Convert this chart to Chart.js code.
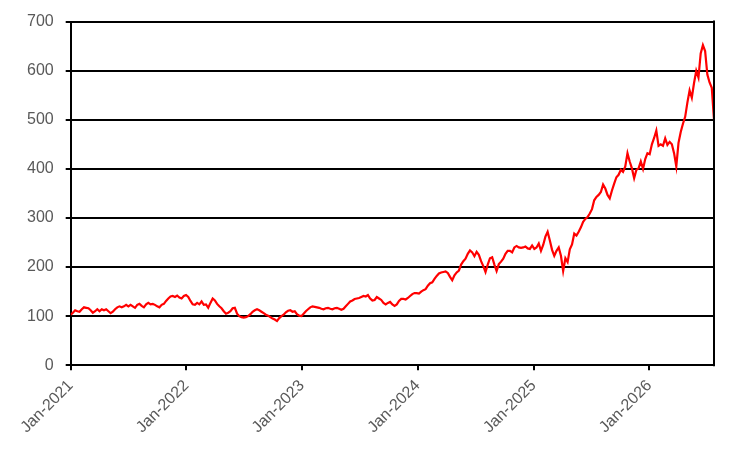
<!DOCTYPE html>
<html>
<head>
<meta charset="utf-8">
<script src="https://cdn.jsdelivr.net/npm/chart.js@4"></script>
<style>
  html, body { margin: 0; padding: 0; background: #fff; }
  #wrap { width: 753px; height: 455px; position: relative; }
</style>
</head>
<body>
<div id="wrap"><canvas id="priceChart"></canvas></div>
<script>
// weekly closes, first point is 1 Jan 2021, one value every 7 days
const startYear = 2021;
const weeklyClose = [
  103,107,112,110,109,114,118,117,116,112,
  107,110,114,110,114,112,114,110,106,109,
  114,118,120,118,120,123,120,123,120,117,
  123,125,121,118,124,127,124,125,123,120,
  118,123,125,131,136,140,141,139,142,138,
  136,141,143,139,131,124,123,127,124,130,
  123,124,117,127,136,132,125,120,116,110,
  105,107,110,116,117,105,100,98,97,98,
  100,104,109,112,114,112,109,106,103,101,
  98,95,93,90,96,100,103,108,111,112,
  109,110,104,101,100,105,110,114,118,120,
  119,118,117,115,114,116,117,115,114,116,
  117,115,113,115,120,125,130,132,135,136,
  137,139,141,140,143,136,132,133,139,136,
  133,127,124,127,129,124,121,124,131,135,
  135,134,137,141,145,147,147,146,150,153,
  155,162,167,169,176,182,187,189,190,191,
  188,180,173,183,189,193,205,212,217,227,
  234,230,222,231,225,212,202,190,205,218,
  220,205,192,206,211,217,227,233,233,230,
  240,243,240,239,240,242,238,237,244,237,
  240,248,233,245,262,272,254,235,223,233,
  240,223,192,218,210,236,246,268,264,272,
  281,292,298,302,309,318,336,343,347,353,
  368,360,347,340,356,370,383,388,398,394,
  405,432,415,401,381,398,401,415,400,420,
  432,430,450,463,478,447,450,447,462,449,
  455,450,432,405,453,475,492,506,535,560,
  545,575,600,586,635,652,640,592,576,565,
  500
];
// tick labels on the date axis, placed at 1 January of each year
const yearTicks = ['Jan-2021','Jan-2022','Jan-2023','Jan-2024','Jan-2025','Jan-2026'];
const yTicks = [0,100,200,300,400,500,600,700];

// day offsets from 1 Jan 2021
function dayOf(y, m, d) {
  return Math.round((Date.UTC(y, m, d) - Date.UTC(startYear, 0, 1)) / 86400000);
}
const points = weeklyClose.map((v, i) => ({ x: i * 7, y: v }));
const tickDays = yearTicks.map((_, i) => dayOf(startYear + i, 0, 1));
const tickText = {};
tickDays.forEach((d, i) => { tickText[d] = yearTicks[i]; });
const lastDay = (weeklyClose.length - 1) * 7;

const TXT = '#595959';
const FONT = { family: 'Liberation Sans', size: 16 };

// box line on the right edge of the plot
const frameRight = {
  id: 'frameRight',
  afterDatasetsDraw(chart) {
    const { ctx, chartArea: a } = chart;
    ctx.save();
    ctx.strokeStyle = '#000';
    ctx.lineWidth = 2;
    ctx.beginPath();
    ctx.moveTo(a.right, a.top - 1);
    ctx.lineTo(a.right, a.bottom + 1);
    ctx.stroke();
    ctx.restore();
  }
};

new Chart(document.getElementById('priceChart'), {
  type: 'line',
  data: {
    datasets: [{
      data: points,
      borderColor: '#FF0000',
      borderWidth: 2.2,
      pointRadius: 0,
      tension: 0,
      fill: false
    }]
  },
  options: {
    responsive: true,
    maintainAspectRatio: false,
    animation: false,
    layout: { padding: { top: 19, right: 39, left: 15, bottom: 12 } },
    plugins: { legend: { display: false }, tooltip: { enabled: false } },
    scales: {
      x: {
        type: 'linear',
        min: 0,
        max: lastDay,
        afterBuildTicks(axis) {
          axis.ticks = tickDays.map(v => ({ value: v }));
        },
        grid: { drawOnChartArea: false, drawTicks: true, tickLength: 5, color: '#000', lineWidth: 2 },
        border: { display: true, color: '#000', width: 2 },
        ticks: {
          color: TXT,
          font: FONT,
          maxRotation: 45,
          minRotation: 45,
          padding: 6,
          autoSkip: false,
          callback: v => tickText[v] || ''
        }
      },
      y: {
        min: 0,
        max: 700,
        afterBuildTicks(axis) {
          axis.ticks = yTicks.map(v => ({ value: v }));
        },
        grid: { color: '#000', lineWidth: 2, tickLength: 5 },
        border: { display: true, color: '#000', width: 2 },
        ticks: { color: TXT, font: FONT, padding: 12 }
      }
    }
  },
  plugins: [frameRight]
});
</script>
</body>
</html>
